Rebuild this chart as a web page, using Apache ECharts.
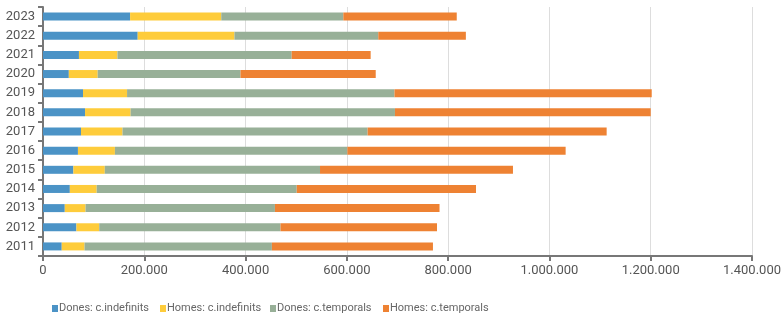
<!DOCTYPE html>
<html><head><meta charset="utf-8">
<script src="https://cdn.jsdelivr.net/npm/echarts@6/dist/echarts.min.js"></script>
<style>html,body{margin:0;padding:0;background:#fff}#c{width:784px;height:320px}</style>
</head><body><div id="c"></div>
<script>
const years = ['2011','2012','2013','2014','2015','2016','2017','2018','2019','2020','2021','2022','2023'];
const donesIndef = [37000,66000,43000,53000,60000,69000,75000,83000,79000,51000,71000,187000,172000];
const homesIndef = [45000,45000,41000,53000,62000,73000,82000,90000,87000,57000,76000,191000,180000];
const donesTemp  = [370000,358000,374000,395000,425000,459000,484000,522000,528000,282000,344000,284000,241000];
const homesTemp  = [318000,309000,325000,354000,381000,431000,472000,505000,508000,267000,156000,173000,224000];
const seriesNames = ['Dones: c.indefinits','Homes: c.indefinits','Dones: c.temporals','Homes: c.temporals'];
const colors = ['#4b93c6','#fecc3b','#98b098','#ee8233'];

const fmt = v => String(v).replace(/\B(?=(\d{3})+(?!\d))/g, '.');
const chart = echarts.init(document.getElementById('c'));
const data = [donesIndef, homesIndef, donesTemp, homesTemp];
const legendX = [47,155,265,378];
chart.setOption({
  animation:false,
  textStyle:{fontFamily:'Roboto'},
  grid:{left:43,right:30,top:7,bottom:64,containLabel:false},
  legend: seriesNames.map((n,i)=>({data:[n],top:298,left:legendX[i],itemWidth:6,itemHeight:7,icon:'rect',
    textStyle:{color:'#666',fontSize:11,fontFamily:'Roboto',padding:[0,0,0,-4]}})),
  xAxis:{type:'value',min:0,max:1400000,interval:200000,
    axisLine:{show:true,lineStyle:{color:'#777',width:2}},
    axisTick:{show:true,length:5,lineStyle:{color:'#777',width:2}},
    splitLine:{lineStyle:{color:'#ddd',width:1}},
    axisLabel:{color:'#555',fontSize:13,margin:8,formatter:fmt}},
  yAxis:{type:'category',data:years,
    axisLine:{lineStyle:{color:'#777',width:2}},
    axisTick:{show:true,length:5,lineStyle:{color:'#777',width:2}},
    axisLabel:{color:'#555',fontSize:13,margin:8}},
  series: data.map((d,i)=>({name:seriesNames[i],type:'bar',stack:'t',data:d,barWidth:8,
    itemStyle:{color:colors[i]}}))
});
</script></body></html>
